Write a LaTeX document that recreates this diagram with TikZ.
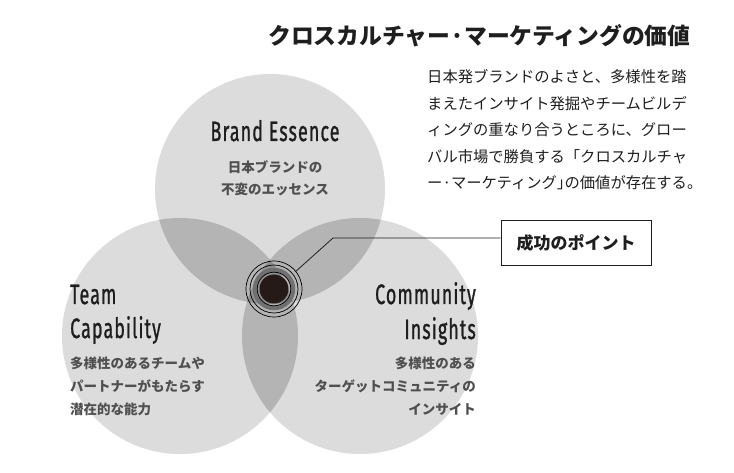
\documentclass[tikz,border=0pt]{standalone}
\usepackage{fontspec}
\setmainfont{Noto Sans CJK JP}
\newfontfamily\engfont{Fira Sans}[LetterSpace=6,FakeBold=1.2]
\newfontfamily\halfpunct{Noto Sans CJK JP}[RawFeature=+halt]
\usepackage{graphicx}
\definecolor{cone}{HTML}{DCDCDC}
\definecolor{ctwo}{HTML}{B4B4B4}
\definecolor{cthree}{HTML}{8E8E8E}
\definecolor{ringgray}{HTML}{707070}
\definecolor{coreclr}{HTML}{261A18}
\definecolor{jpgray}{HTML}{505050}
\definecolor{ink}{HTML}{1E1E1E}
\newcommand{\eng}[1]{\scalebox{0.64}[1]{\engfont #1}}
\begin{document}
\begin{tikzpicture}[x=1pt,y=-1pt,
  englabel/.style={font=\fontsize{28}{30}\selectfont, text=ink, inner sep=0pt},
  jplabel/.style={font=\fontsize{13.5}{16}\selectfont\bfseries, text=jpgray, inner sep=0pt},
  ring/.style={draw=black, line width=0.7pt}]
\fill[white] (0,0) rectangle (734,473);
\useasboundingbox (0,0) rectangle (734,473);
\coordinate (T) at (270,189);
\coordinate (L) at (180,336);
\coordinate (R) at (360,336);
% circles
\fill[cone] (T) circle[radius=115pt];
\fill[cone] (L) circle[radius=118pt];
\fill[cone] (R) circle[radius=118pt];
\begin{scope}
  \clip (T) circle[radius=115pt];
  \fill[ctwo] (L) circle[radius=118pt];
  \fill[ctwo] (R) circle[radius=118pt];
\end{scope}
\begin{scope}
  \clip (L) circle[radius=118pt];
  \fill[ctwo] (R) circle[radius=118pt];
\end{scope}
\begin{scope}
  \clip (T) circle[radius=115pt];
  \clip (L) circle[radius=118pt];
  \fill[cthree] (R) circle[radius=118pt];
\end{scope}
% bullseye
\node[circle, ring, minimum size=56pt, inner sep=0pt] (bull) at (274,289) {};
\draw[ring] (bull.center) circle[radius=24pt];
\draw[ringgray, line width=4.5pt] (bull.center) circle[radius=19pt];
\draw[ring] (bull.center) circle[radius=16.8pt];
\fill[coreclr] (bull.center) circle[radius=14.5pt];
% callout
\node[draw=ink, line width=0.9pt, minimum width=150pt, minimum height=45pt, inner sep=0pt,
  font=\fontsize{17}{20}\selectfont\bfseries, text=ink] (point) at (576,242.5) {成功のポイント};
\coordinate (knee) at (333,238);
\draw[ink, line width=0.8pt] (bull.39) -- (knee) -- (knee -| point.west);
% title
\node[anchor=west, inner sep=0pt, font=\fontsize{22.8}{24}\selectfont\bfseries, text=ink] (title) at (268,36) {クロスカルチャー·マーケティングの価値};
% paragraph
\node[anchor=north west, inner sep=0pt, align=left, font=\fontsize{15.3}{26.5}\selectfont, text=ink] (para) at (427,69.5) {日本発ブランドのよさと、多様性を踏\\まえたインサイト発掘やチームビルデ\\ィングの重なり合うところに、グロー\\バル市場で勝負する「クロスカルチャ\\ー{\halfpunct ·}マーケティング{\halfpunct 」}の価値が存在する。};
% Brand Essence
\node[englabel, anchor=base] (be) at (275,141) {\eng{Brand Essence}};
\node[jplabel] (be1) at (275,167) {日本ブランドの};
\node[jplabel] (be2) at (275,189) {不変のエッセンス};
% Team Capability
\node[englabel, anchor=base west] (tc1) at (70,304) {\eng{Team}};
\node[englabel, anchor=base west] (tc2) at (70,338) {\eng{Capability}};
\node[jplabel, anchor=west] (tj1) at (70,363) {多様性のあるチームや};
\node[jplabel, anchor=west] (tj2) at (70,386) {パートナーがもたらす};
\node[jplabel, anchor=west] (tj3) at (70,409) {潜在的な能力};
% Community Insights
\node[englabel, anchor=base east] (ci1) at (476,304) {\eng{Community}};
\node[englabel, anchor=base east] (ci2) at (476,339) {\eng{Insights}};
\node[jplabel, anchor=east] (cj1) at (476,363) {多様性のある};
\node[jplabel, anchor=east] (cj2) at (476,386) {ターゲットコミュニティの};
\node[jplabel, anchor=east] (cj3) at (476,409) {インサイト};
\end{tikzpicture}
\end{document}
